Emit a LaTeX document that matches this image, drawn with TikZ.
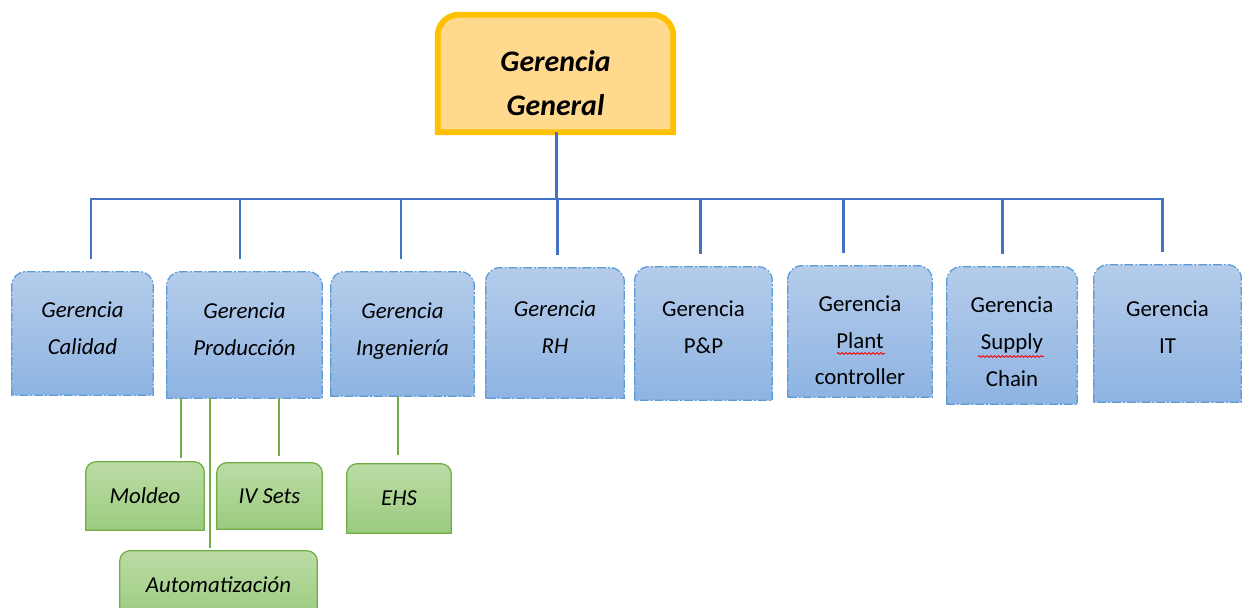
\documentclass[tikz,border=0pt]{standalone}
\usepackage{fontspec}
\setmainfont{Carlito}
\usetikzlibrary{calc, backgrounds, decorations.pathmorphing}
\definecolor{GGBorder}{HTML}{FFC000}
\definecolor{GGFill}{HTML}{FFD98E}
\definecolor{LinkBlue}{HTML}{4472C4}
\definecolor{BoxEdge}{HTML}{5B9BD5}
\definecolor{BoxTop}{HTML}{B5CCEA}
\definecolor{BoxBottom}{HTML}{8EB4E3}
\definecolor{LinkGreen}{HTML}{70AD47}
\definecolor{LeafTop}{HTML}{BBDCA5}
\definecolor{LeafBottom}{HTML}{9BCB7F}

\newcommand{\tabtop}[3]{%
	\path[#2] (#1.south west) -- ([yshift=-#3]#1.north west)
		arc[start angle=180, end angle=90, radius=#3]
		-- ([xshift=-#3]#1.north east)
		arc[start angle=90, end angle=0, radius=#3]
		-- (#1.south east) -- cycle;}

\begin{document}
\begin{tikzpicture}[x = 0.02cm, y = -0.02cm,
		plain/.style = {inner sep = 0pt},
		headtxt/.style = {align = center, font = \fontsize{17}{25}\selectfont\bfseries\itshape},
		areatxt/.style = {align = center, font = \fontsize{13}{21}\selectfont},
		areait/.style = {areatxt, font = \fontsize{13}{21}\selectfont\itshape},
		leafbox/.style = {align = center, inner sep = 0pt, minimum height = 1.36cm, font = \fontsize{13}{21}\selectfont\itshape},
		headfill/.style = {draw = GGBorder, line width = 3.3pt, fill = GGFill},
		areafill/.style = {draw = BoxEdge, line width = 0.7pt, dash pattern = on 5pt off 1.2pt on 1pt off 1.2pt, top color = BoxTop, bottom color = BoxBottom},
		leaffill/.style = {draw = LinkGreen, line width = 0.7pt, top color = LeafTop, bottom color = LeafBottom},
		bluelink/.style = {draw = LinkBlue, line width = 1.7pt},
		greenlink/.style = {draw = LinkGreen, line width = 1.7pt},
		spell/.style = {draw = red, line width = 0.5pt, decorate, decoration = {snake, amplitude = 0.5pt, segment length = 2.2pt}}]
	\useasboundingbox (0, 0) rectangle (1250, 608);

	\node[plain, minimum width = 4.70cm, minimum height = 2.34cm, label = {[headtxt, yshift = -5.5pt]center:Gerencia\\General}] (gg) at (555.5, 73.5) {};

	\node[plain, minimum width = 2.82cm, minimum height = 2.46cm, label = {[areait, yshift = 2.8pt]center:Gerencia\\Calidad}] (cal) at (82.5, 333.5) {};
	\node[plain, minimum width = 3.10cm, minimum height = 2.52cm, label = {[areait, yshift = 3.4pt]center:Gerencia\\Producción}] (pro) at (244.5, 335) {};
	\node[plain, minimum width = 2.86cm, minimum height = 2.48cm, label = {[areait, yshift = 1.7pt]center:Gerencia\\Ingeniería}] (ing) at (402.5, 334) {};
	\node[plain, minimum width = 2.76cm, minimum height = 2.60cm, label = {[areait, yshift = 3.4pt]center:Gerencia\\RH}] (rh) at (555, 333) {};
	\node[plain, minimum width = 2.74cm, minimum height = 2.66cm, label = {[areatxt, yshift = 3.4pt]center:Gerencia\\P\&P}] (pp) at (703.5, 333.5) {};
	\node[plain, minimum width = 2.88cm, minimum height = 2.62cm, label = {[areatxt, yshift = -5pt]center:Gerencia\\Plant\\controller}] (plc) at (860, 331.5) {};
	\node[plain, minimum width = 2.60cm, minimum height = 2.74cm, label = {[areatxt, yshift = -3.4pt]center:Gerencia\\Supply\\Chain}] (sc) at (1012, 335.5) {};
	\node[plain, minimum width = 2.94cm, minimum height = 2.74cm, label = {[areatxt, yshift = 3.4pt]center:Gerencia\\IT}] (it) at (1167.5, 333.5) {};

	\node[leafbox, minimum width = 2.36cm] (mol) at (145, 496) {Moldeo};
	\node[leafbox, minimum width = 2.10cm, minimum height = 1.32cm] (ivs) at (269.5, 496) {IV Sets};
	\node[leafbox, minimum width = 2.08cm, minimum height = 1.38cm] (ehs) at (399, 498.5) {EHS};
	\node[leafbox, minimum width = 3.94cm] (aut) at (218.5, 585) {Automatización};

	\begin{scope}[on background layer]
		\clip (0, 0) rectangle (1250, 608);
		\tabtop{gg}{headfill}{12pt}
		\foreach \n in {cal,pro,ing,rh,pp,plc,sc,it} {\tabtop{\n}{areafill}{8pt}}
		\foreach \n in {mol,ivs,ehs,aut} {\tabtop{\n}{leaffill}{6pt}}
	\end{scope}

	\coordinate (bar) at (557, 199);
	\draw[bluelink] ([xshift = 0.8pt]gg.south) -- ([xshift = 0.8pt]gg.south |- bar);
	\foreach \n/\dx in {cal/8.5,pro/-4.5,ing/-1.5,rh/2,pp/-3.5,plc/-17,sc/-10,it/-5.5}
		\draw[bluelink] ($(\n.north)+(\dx, -13)$) coordinate (d\n) -- (d\n |- bar);
	\draw[bluelink, line cap = rect] (dcal |- bar) -- (dit |- bar);

	\foreach \p/\dx/\c/\gap in {pro/-63.5/mol/4,pro/-34.5/aut/3,pro/34.5/ivs/7,ing/-4.5/ehs/9}
		\draw[greenlink] ($(\p.south)+(\dx, 0)$) coordinate (g\c) -- ($(g\c |- \c.north)+(0, -\gap)$);

	\draw[spell] ($(plc.center)+(-23, 22)$) -- ($(plc.center)+(25, 22)$);
	\draw[spell] ($(sc.center)+(-34, 21)$) -- ($(sc.center)+(32, 21)$);
\end{tikzpicture}
\end{document}
